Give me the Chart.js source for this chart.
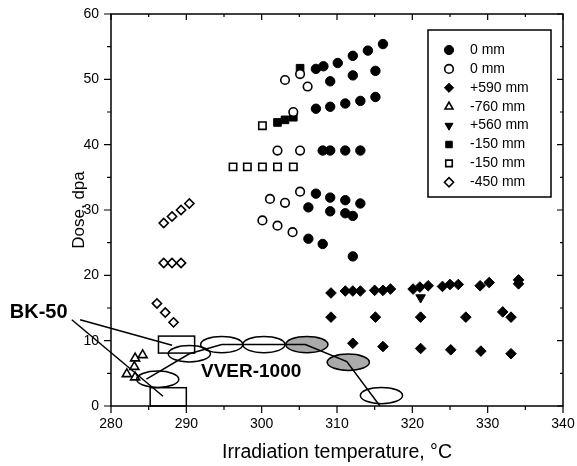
<!DOCTYPE html>
<html><head><meta charset="utf-8">
<script src="https://cdn.jsdelivr.net/npm/chart.js@4/dist/chart.umd.min.js"></script>
<style>html,body{margin:0;padding:0;background:#fff}#wrap{width:577px;height:466px}</style>
</head><body><div id="wrap"><canvas id="c" width="577" height="466"></canvas></div>
<script>
// ---------- data ----------
const seriesLabels = ['0 mm', '0 mm', '+590 mm', '-760 mm', '+560 mm', '-150 mm', '-150 mm', '-450 mm'];
const xTickValues = [280, 290, 300, 310, 320, 330, 340];
const yTickValues = [0, 10, 20, 30, 40, 50, 60];

const filledCircle0mm = [
  [316.1,55.4],[314.1,54.4],[312.1,53.6],[310.1,52.5],[308.2,52.0],[307.2,51.6],
  [309.1,49.7],[312.1,50.6],[315.1,51.3],
  [307.2,45.5],[309.1,45.8],[311.1,46.3],[313.1,46.7],[315.1,47.3],
  [308.1,39.1],[309.1,39.1],[311.1,39.1],[313.1,39.1],
  [307.2,32.5],[309.1,31.9],[311.1,31.5],[313.1,31.0],
  [306.2,30.4],[309.1,29.8],[311.1,29.5],[312.1,29.1],
  [306.2,25.6],[308.1,24.8],[312.1,22.9]
];
const openCircle0mm = [
  [303.1,49.9],[305.1,50.8],[306.1,48.9],[304.2,45.0],
  [302.1,39.1],[305.1,39.1],
  [305.1,32.8],[301.1,31.7],[303.1,31.1],
  [300.1,28.4],[302.1,27.6],[304.1,26.6]
];
const diamond590mm = [
  [309.2,17.3],[311.1,17.6],[312.1,17.6],[313.1,17.6],[315.0,17.7],[316.1,17.7],[317.1,17.9],
  [320.1,17.9],[321.0,18.2],[322.1,18.4],[324.0,18.3],[325.0,18.6],[326.1,18.6],
  [329.0,18.4],[330.2,18.9],[334.1,19.3],[334.1,18.7],
  [309.2,13.6],[315.1,13.6],[321.1,13.6],[327.1,13.6],[332.0,14.4],[333.1,13.6],
  [312.1,9.6],[316.1,9.1],[321.1,8.8],[325.1,8.6],[329.1,8.4],[333.1,8.0]
];
const triangle760mm = [[283.2,7.3],[284.2,7.8],[283.1,6.0],[282.1,4.9],[283.2,4.4]];
const triangleDown560mm = [[321.1,16.6]];
const filledSquare150mm = [[305.1,51.7],[302.1,43.4],[303.1,43.8],[304.2,44.2]];
const openSquare150mm = [[300.1,42.9],[296.2,36.6],[298.1,36.6],[300.1,36.6],[302.1,36.6],[304.2,36.6]];
const openDiamond450mm = [
  [287.0,28.0],[288.1,29.0],[289.3,30.0],[290.4,31.0],
  [287.0,21.9],[288.1,21.9],[289.3,21.9],
  [286.1,15.7],[287.2,14.3],[288.3,12.8]
];

// annotation geometry in data units
const ellipseCenters = [[286.2,4.1],[290.4,8.0],[294.7,9.4],[300.3,9.4],[306.0,9.4],[311.5,6.7],[315.9,1.6]];
const ellipseShaded = [false,false,false,false,true,true,false];
const vverTrend = [[284.7,4.1],[290.4,8.0],[294.7,9.4],[305.8,9.4],[311.3,6.8],[315.7,0]];
const bkBoxes = [[286.3,8.1,291.1,10.7],[285.2,0,290.0,2.8]];
const bkPointers = [[[275.9,13.2],[288.1,9.3]],[[274.8,13.2],[286.9,1.5]]];
const bkLabel = {text:'BK-50', at:[270.4,14.3]};
const vverLabel = {text:'VVER-1000', at:[298.6,5.2]};

// ---------- chart ----------
const toXY = a => a.map(p => ({x:p[0], y:p[1]}));
const FONT = "'Liberation Sans', Arial, sans-serif";

function ds(label, data, style, filled, radius, rotation) {
  return {
    label, data: toXY(data), pointStyle: style, rotation: rotation || 0,
    pointRadius: radius, pointHoverRadius: radius,
    backgroundColor: filled ? '#000' : '#fff', borderColor: '#000',
    borderWidth: filled ? 1 : 1.6, showLine: false
  };
}

const datasets = [
  ds(seriesLabels[0], filledCircle0mm, 'circle', true, 4.7),
  ds(seriesLabels[1], openCircle0mm, 'circle', false, 4.3),
  ds(seriesLabels[2], diamond590mm, 'rectRot', true, 5.3),
  ds(seriesLabels[3], triangle760mm, 'triangle', false, 5.2),
  ds(seriesLabels[4], triangleDown560mm, 'triangle', true, 5.5, 180),
  ds(seriesLabels[5], filledSquare150mm, 'rect', true, 5.4),
  ds(seriesLabels[6], openSquare150mm, 'rect', false, 5.2),
  ds(seriesLabels[7], openDiamond450mm, 'rectRot', false, 4.6)
];

const framePlugin = {
  id: 'frame',
  afterDraw(chart) {
    const {ctx, chartArea: a, scales: {x, y}} = chart;
    ctx.save();
    // ellipses
    ellipseCenters.forEach((c, i) => {
      const cx = x.getPixelForValue(c[0]), cy = y.getPixelForValue(c[1]);
      const rx = Math.abs(x.getPixelForValue(c[0] + 2.8) - cx);
      const ry = Math.abs(y.getPixelForValue(c[1] + 1.25) - cy);
      ctx.beginPath(); ctx.ellipse(cx, cy, rx, ry, 0, 0, Math.PI * 2);
      if (ellipseShaded[i]) { ctx.fillStyle = '#aaaaaa'; ctx.fill(); }
      ctx.lineWidth = 1.5; ctx.strokeStyle = '#000'; ctx.stroke();
    });
    // boxes
    bkBoxes.forEach(b => {
      const x0 = x.getPixelForValue(b[0]), x1 = x.getPixelForValue(b[2]);
      const y0 = y.getPixelForValue(b[1]), y1 = y.getPixelForValue(b[3]);
      ctx.lineWidth = 1.5; ctx.strokeStyle = '#000';
      ctx.strokeRect(x0, y1, x1 - x0, y0 - y1);
    });
    // trend line
    ctx.beginPath();
    vverTrend.forEach((p, i) => {
      const px = x.getPixelForValue(p[0]), py = y.getPixelForValue(p[1]);
      i ? ctx.lineTo(px, py) : ctx.moveTo(px, py);
    });
    ctx.lineWidth = 1.5; ctx.stroke();
    // pointers
    bkPointers.forEach(seg => {
      ctx.beginPath();
      ctx.moveTo(x.getPixelForValue(seg[0][0]), y.getPixelForValue(seg[0][1]));
      ctx.lineTo(x.getPixelForValue(seg[1][0]), y.getPixelForValue(seg[1][1]));
      ctx.stroke();
    });
    // labels
    ctx.fillStyle = '#000'; ctx.textAlign = 'center'; ctx.textBaseline = 'middle';
    ctx.font = 'bold 20px ' + FONT;
    ctx.fillText(bkLabel.text, x.getPixelForValue(bkLabel.at[0]), y.getPixelForValue(bkLabel.at[1]));
    ctx.font = 'bold 19px ' + FONT;
    ctx.fillText(vverLabel.text, x.getPixelForValue(vverLabel.at[0]), y.getPixelForValue(vverLabel.at[1]));

    // frame
    ctx.lineWidth = 1.5; ctx.strokeStyle = '#000';
    ctx.strokeRect(a.left, a.top, a.right - a.left, a.bottom - a.top);
    // ticks
    ctx.lineWidth = 1.2;
    ctx.beginPath();
    for (let v = x.min; v <= x.max + 0.001; v += 5) {
      const px = x.getPixelForValue(v);
      const major = Math.abs(v % 10) < 0.001;
      ctx.moveTo(px, a.bottom); ctx.lineTo(px, a.bottom + (major ? 7 : 4));
      ctx.moveTo(px, a.top); ctx.lineTo(px, a.top + (major ? 6 : 3));
    }
    for (let v = y.min; v <= y.max + 0.001; v += 5) {
      const py = y.getPixelForValue(v);
      const major = Math.abs(v % 10) < 0.001;
      ctx.moveTo(a.left, py); ctx.lineTo(a.left - (major ? 7 : 4), py);
      ctx.moveTo(a.right, py); ctx.lineTo(a.right - (major ? 6 : 3), py);
    }
    ctx.stroke();

    // legend
    const lx0 = 428, ly0 = 30, lw = 123, lh = 167;
    ctx.fillStyle = '#fff'; ctx.fillRect(lx0, ly0, lw, lh);
    ctx.lineWidth = 1.5; ctx.strokeRect(lx0, ly0, lw, lh);
    ctx.font = '14px ' + FONT; ctx.textAlign = 'left'; ctx.textBaseline = 'middle';
    chart.data.datasets.forEach((d, i) => {
      const ly = ly0 + 20 + i * 18.9;
      const r = Math.min(d.pointRadius, 4.6);
      ctx.save();
      ctx.fillStyle = d.backgroundColor; ctx.strokeStyle = '#000'; ctx.lineWidth = d.borderWidth;
      Chart.helpers.drawPoint(ctx, {pointStyle: d.pointStyle, rotation: d.rotation, borderWidth: d.borderWidth, radius: r}, lx0 + 21, ly);
      ctx.restore();
      ctx.fillStyle = '#000';
      ctx.fillText(d.label, lx0 + 42, ly);
    });
    ctx.restore();
  }
};

new Chart(document.getElementById('c'), {
  type: 'scatter',
  data: {datasets},
  options: {
    responsive: false, animation: false, devicePixelRatio: 1,
    layout: {padding: {top: 14, right: 14, left: 0, bottom: 0}},
    plugins: {legend: {display: false}, tooltip: {enabled: false}},
    scales: {
      x: {
        type: 'linear', min: 280, max: 340,
        afterBuildTicks: s => { s.ticks = xTickValues.map(v => ({value: v})); },
        afterFit: s => { s.height = 60; s.paddingLeft = 0; s.paddingRight = 0; },
        grid: {display: false, drawTicks: false}, border: {display: false},
        ticks: {font: {size: 14, family: FONT}, color: '#000', padding: 10},
        title: {display: true, text: 'Irradiation temperature, °C', color: '#000',
                font: {size: 19.5, family: FONT}, padding: {bottom: 2}}
      },
      y: {
        type: 'linear', min: 0, max: 60,
        afterBuildTicks: s => { s.ticks = yTickValues.map(v => ({value: v})); },
        afterFit: s => { s.width = 111; s.paddingTop = 0; s.paddingBottom = 0; },
        grid: {display: false, drawTicks: false}, border: {display: false},
        ticks: {font: {size: 14, family: FONT}, color: '#000', padding: 12},
        title: {display: true, text: 'Dose, dpa', color: '#000',
                font: {size: 17, family: FONT}, padding: {top: 69}}
      }
    }
  },
  plugins: [framePlugin]
});
</script></body></html>
